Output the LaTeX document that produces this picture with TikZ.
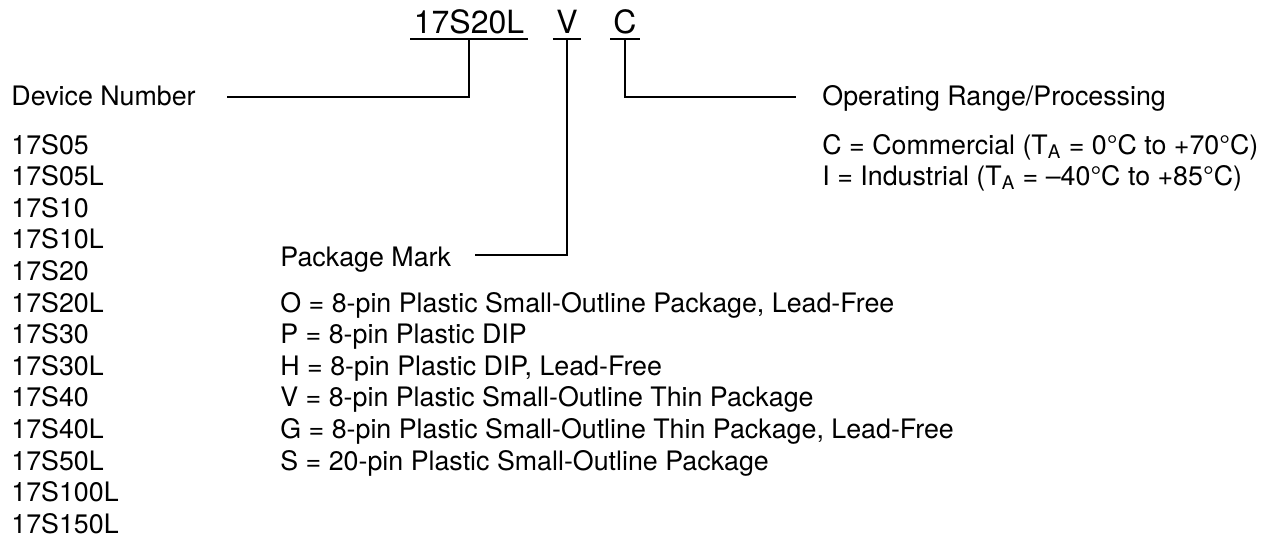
\documentclass[tikz,border=0pt]{standalone}
\usepackage{fontspec}
\setmainfont{TeX Gyre Heros}
\usetikzlibrary{positioning, calc}

\begin{document}
\begin{tikzpicture}[x=0.5pt, y=-0.5pt,
    lbl/.style={anchor=base west, inner sep=0pt, font=\fontsize{13.4}{15.8}\selectfont},
    code/.style={anchor=base, inner xsep=1.5pt, inner ysep=0pt, font=\fontsize{16}{18}\selectfont},
    lead/.style={line width=1pt}]
                \useasboundingbox (0,0) rectangle (1267,537);

                % ordering code
                \node[code] (num) at (469,33) {17S20L};
                \node[code] (pkg) at (567,33) {V};
                \node[code] (rng) at (625,33) {C};
                \foreach \n in {num,pkg,rng}
                    \draw[lead] ($(\n.base west)+(0,6)$) -- ($(\n.base east)+(0,6)$);

                % headings
                \node[lbl] (dev) at (11,105) {Device Number};
                \node[lbl] (mark) at (280,266) {Package Mark};
                \node[lbl] (oper) at (822,105) {Operating Range/Processing};
                \coordinate (devend) at (227,97);
                \coordinate (markend) at (475,255);
                \coordinate (operend) at (796,97);

                \draw[lead] ($(num.base)+(0,6)$) |- (devend);
                \draw[lead] ($(pkg.base)+(0,6)$) |- (markend);
                \draw[lead] ($(rng.base)+(0,6)$) |- (operend);

                % device numbers
                \foreach \d [count=\i from 0] in {17S05,17S05L,17S10,17S10L,17S20,17S20L,17S30,
                        17S30L,17S40,17S40L,17S50L,17S100L,17S150L}
                    \node[lbl] (d\i) at (11,{154+31.6*\i}) {\d};

                % package marks
                \foreach \p [count=\i from 0] in {O = 8-pin Plastic Small-Outline Package{,} Lead-Free,
                        P = 8-pin Plastic DIP,
                        H = 8-pin Plastic DIP{,} Lead-Free,
                        V = 8-pin Plastic Small-Outline Thin Package,
                        G = 8-pin Plastic Small-Outline Thin Package{,} Lead-Free,
                        S = 20-pin Plastic Small-Outline Package}
                    \node[lbl] (p\i) at (280,{154+31.6*(\i+5)}) {\p};

                % operating ranges
                \node[lbl] (com) at (822,154) {C = Commercial (T\textsubscript{A} = 0°C to +70°C)};
                \node[lbl] (ind) at (822,185.6) {I = Industrial (T\textsubscript{A} = –40°C to +85°C)};
            \end{tikzpicture}
\end{document}
